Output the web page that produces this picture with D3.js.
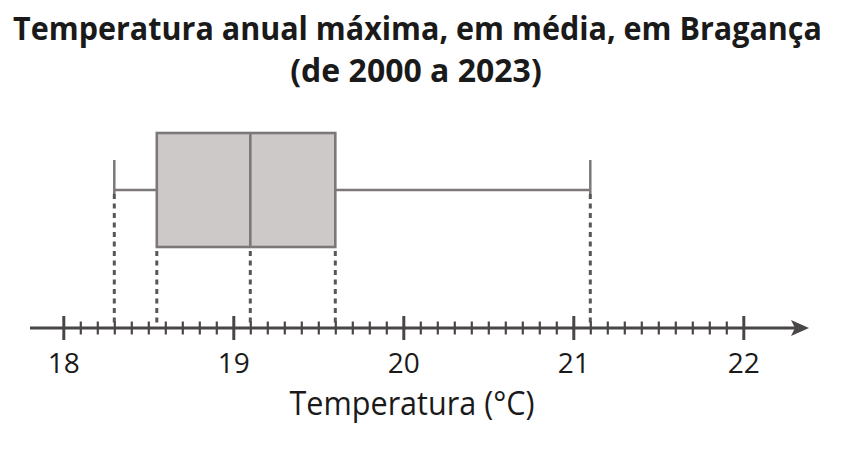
<!DOCTYPE html>
<html>
<head>
<meta charset="utf-8">
<script src="https://cdn.jsdelivr.net/npm/d3@7"></script>
<style>
  html, body { margin: 0; padding: 0; background: #fff; }
  svg { display: block; }
</style>
</head>
<body>
<svg id="chart" width="855" height="450"></svg>
<script>
// ---- data ----
const titleLines = ["Temperatura anual máxima, em média, em Bragança", "(de 2000 a 2023)"];
const axisTitle = "Temperatura (°C)";
const statNames = ["mínimo", "Q1", "mediana", "Q3", "máximo"];
const statValues = [18.3, 18.55, 19.1, 19.6, 21.1];
const majorTicks = [18, 19, 20, 21, 22];
const tickLabels = ["18", "19", "20", "21", "22"];
const minorStep = 0.1;

// ---- layout ----
const svg = d3.select("#chart");
const x = d3.scaleLinear().domain([18, 22]).range([63.3, 743.3]);
const axisY = 328;
const boxTop = 133, boxBottom = 247, midY = 190, capTop = 160;
const stat = Object.fromEntries(statNames.map((n, i) => [n, statValues[i]]));

// centred text, condensed horizontally to a target width
function fittedText(str, cx, y, width, size, weight) {
  const g = svg.append("g");
  const t = g.append("text").attr("x", 0).attr("y", 0).attr("text-anchor", "middle")
    .attr("font-family", "Open Sans").attr("font-weight", weight).attr("font-size", size)
    .attr("fill", "#1a1a1a").text(str);
  const len = t.node().getComputedTextLength();
  const sx = Math.min(1, width / len);
  g.attr("transform", `translate(${cx},${y}) scale(${sx},1)`);
  return t;
}

// title
fittedText(titleLines[0], 417.5, 40, 809, 32, 700);
fittedText(titleLines[1], 416, 82, 263, 32, 700);

// dashed guides
const dashed = [
  { v: stat["mínimo"], top: midY },
  { v: stat["Q1"], top: boxBottom },
  { v: stat["mediana"], top: boxBottom },
  { v: stat["Q3"], top: boxBottom },
  { v: stat["máximo"], top: midY }
];
svg.append("g").selectAll("line").data(dashed).join("line")
  .attr("x1", d => x(d.v)).attr("x2", d => x(d.v))
  .attr("y1", d => d.top + 4).attr("y2", axisY)
  .attr("stroke", "#5a5556").attr("stroke-width", 3)
  .attr("stroke-dasharray", "5,4.5");

// whiskers
const wc = "#7d7778";
svg.append("line").attr("x1", x(stat["mínimo"])).attr("x2", x(stat["Q1"]))
  .attr("y1", midY).attr("y2", midY).attr("stroke", wc).attr("stroke-width", 2.5);
svg.append("line").attr("x1", x(stat["Q3"])).attr("x2", x(stat["máximo"]))
  .attr("y1", midY).attr("y2", midY).attr("stroke", wc).attr("stroke-width", 2.5);
[stat["mínimo"], stat["máximo"]].forEach(v => {
  svg.append("line").attr("x1", x(v)).attr("x2", x(v))
    .attr("y1", capTop).attr("y2", midY + 4).attr("stroke", wc).attr("stroke-width", 2.5);
});

// box
svg.append("rect").attr("x", x(stat["Q1"])).attr("y", boxTop)
  .attr("width", x(stat["Q3"]) - x(stat["Q1"])).attr("height", boxBottom - boxTop)
  .attr("fill", "#cdc9c9").attr("stroke", wc).attr("stroke-width", 2.6);
svg.append("line").attr("x1", x(stat["mediana"])).attr("x2", x(stat["mediana"]))
  .attr("y1", boxTop).attr("y2", boxBottom).attr("stroke", wc).attr("stroke-width", 2.6);

// axis line with arrow
const axColor = "#4a4646";
svg.append("line").attr("x1", 30).attr("x2", 796).attr("y1", axisY).attr("y2", axisY)
  .attr("stroke", axColor).attr("stroke-width", 3);
svg.append("path").attr("d", `M809,${axisY} L791,${axisY - 8} L795,${axisY} L791,${axisY + 8} Z`)
  .attr("fill", axColor);

// minor ticks via d3 axis
const minorVals = d3.range(0, 41).map(i => +(18 + i * minorStep).toFixed(1))
  .filter(v => !majorTicks.includes(v));
const minorAxis = d3.axisBottom(x).tickValues(minorVals).tickSize(0).tickFormat("");
const gMinor = svg.append("g").attr("transform", `translate(0,${axisY})`).call(minorAxis);
gMinor.select(".domain").remove();
gMinor.selectAll(".tick line").attr("y1", -6.5).attr("y2", 6.5)
  .attr("stroke", axColor).attr("stroke-width", 2.2);

// major ticks via d3 axis
const majorAxis = d3.axisBottom(x).tickValues(majorTicks)
  .tickFormat((d, i) => tickLabels[i]).tickSize(0).tickPadding(0);
const gMajor = svg.append("g").attr("transform", `translate(0,${axisY})`).call(majorAxis);
gMajor.select(".domain").remove();
gMajor.selectAll(".tick line").attr("y1", -12).attr("y2", 12)
  .attr("stroke", axColor).attr("stroke-width", 3);
gMajor.selectAll(".tick text").attr("y", 45).attr("dy", null)
  .attr("font-family", "Open Sans").attr("font-size", 28).attr("fill", "#1a1a1a");

// axis title
fittedText(axisTitle, 412, 415, 245, 33, 400);
</script>
</body>
</html>
